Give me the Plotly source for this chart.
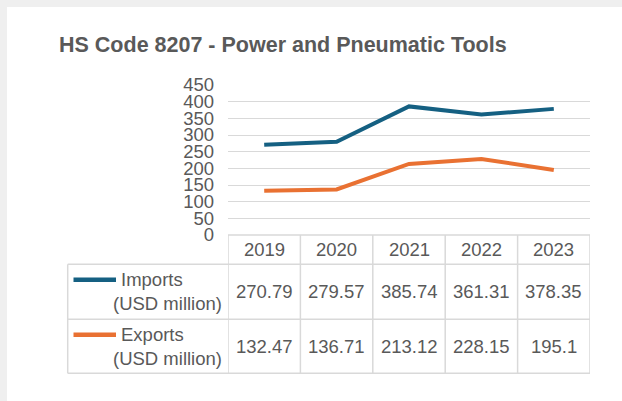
import plotly.graph_objects as go

years = ["2019", "2020", "2021", "2022", "2023"]
imports = [270.79, 279.57, 385.74, 361.31, 378.35]
exports = [132.47, 136.71, 213.12, 228.15, 195.1]
series_names = ["Imports", "Exports"]
unit_label = "(USD million)"
y_ticks = [0, 50, 100, 150, 200, 250, 300, 350, 400, 450]
title = "HS Code 8207 - Power and Pneumatic Tools"

W, H = 622, 401
BLUE = "#156082"
ORANGE = "#E97132"
TXT = "#595959"
GRID = "#d9d9d9"
FONT = "Liberation Sans, Arial, sans-serif"


def X(px):
    return px / W


def Y(py):
    return 1 - py / H


# layout geometry (pixels)
plot_l, plot_r = 228, 590
plot_t, plot_b = 85, 235
row_edges = [235, 264.3, 319.3, 373.3]
legend_l = 67.7

xidx = list(range(len(years)))

fig = go.Figure()
fig.add_trace(go.Scatter(x=xidx, y=imports, mode="lines", name=series_names[0],
                         line=dict(color=BLUE, width=4), hoverinfo="skip"))
fig.add_trace(go.Scatter(x=xidx, y=exports, mode="lines", name=series_names[1],
                         line=dict(color=ORANGE, width=4), hoverinfo="skip"))

shapes = []
# white card on gray page
shapes.append(dict(type="rect", xref="paper", yref="paper", x0=X(7), x1=X(W + 5),
                   y0=Y(H + 5), y1=Y(7), fillcolor="white", line=dict(width=0),
                   layer="below"))
# horizontal table borders
shapes.append(dict(type="line", xref="paper", yref="paper", x0=X(plot_l), x1=X(plot_r),
                   y0=Y(row_edges[0]), y1=Y(row_edges[0]), line=dict(color=GRID, width=1.5)))
for r in row_edges[1:]:
    shapes.append(dict(type="line", xref="paper", yref="paper", x0=X(legend_l), x1=X(plot_r),
                       y0=Y(r), y1=Y(r), line=dict(color=GRID, width=1.5)))
# vertical table borders at category boundaries
for i in range(len(years) + 1):
    shapes.append(dict(type="line", xref="x", yref="paper", x0=i - 0.5, x1=i - 0.5,
                       y0=Y(row_edges[0]), y1=Y(row_edges[-1]),
                       line=dict(color=GRID, width=1.5)))
shapes.append(dict(type="line", xref="paper", yref="paper", x0=X(legend_l), x1=X(legend_l),
                   y0=Y(row_edges[1]), y1=Y(row_edges[-1]), line=dict(color=GRID, width=1.5)))

annotations = []
# header years
hdr_y = (row_edges[0] + row_edges[1]) / 2
for i, yr in enumerate(years):
    annotations.append(dict(x=i, xref="x", y=Y(hdr_y), yref="paper", text=yr,
                            showarrow=False, xanchor="center", yanchor="middle",
                            font=dict(size=18.5, color=TXT, family=FONT)))
# values
for k, (vals, color) in enumerate([(imports, BLUE), (exports, ORANGE)]):
    rt, rb = row_edges[k + 1], row_edges[k + 2]
    cy = (rt + rb) / 2
    for i, v in enumerate(vals):
        annotations.append(dict(x=i, xref="x", y=Y(cy), yref="paper", text=f"{v:g}",
                                showarrow=False, xanchor="center", yanchor="middle",
                                font=dict(size=18.5, color=TXT, family=FONT)))
    # legend key
    ky = rt + 15.5
    shapes.append(dict(type="line", xref="paper", yref="paper", x0=X(73.5), x1=X(116),
                       y0=Y(ky), y1=Y(ky), line=dict(color=color, width=4.5)))
    annotations.append(dict(x=X(119), xref="paper", y=Y(ky), yref="paper",
                            text=series_names[k], showarrow=False, xanchor="left",
                            yanchor="middle", font=dict(size=18.5, color=TXT, family=FONT)))
    annotations.append(dict(x=X(223.5), xref="paper", y=Y(ky + 23.2), yref="paper",
                            text=unit_label, showarrow=False, xanchor="right",
                            yanchor="middle", font=dict(size=18.5, color=TXT, family=FONT)))

# title
annotations.append(dict(x=X(283), xref="paper", y=Y(45), yref="paper", text=f"<b>{title}</b>",
                        showarrow=False, xanchor="center", yanchor="middle",
                        font=dict(size=21.5, color=TXT, family=FONT)))

fig.update_layout(
    width=W, height=H,
    margin=dict(l=0, r=0, t=0, b=0, pad=0),
    paper_bgcolor="#efefef",
    plot_bgcolor="white",
    showlegend=False,
    shapes=shapes,
    annotations=annotations,
    xaxis=dict(domain=[X(plot_l), X(plot_r)], range=[-0.5, len(years) - 0.5],
               showgrid=False, showticklabels=False, zeroline=False, showline=False,
               ticks="", automargin=False),
    yaxis=dict(domain=[Y(plot_b), Y(plot_t)], range=[0, 450], tickvals=y_ticks,
               showgrid=True, gridcolor=GRID, gridwidth=1.3, zeroline=False,
               showline=False, ticks="", ticklabelstandoff=13, automargin=False,
               tickfont=dict(size=18.5, color=TXT, family=FONT)),
)

fig.write_html("out.html", post_script="document.body.style.margin='0';",
               config={"displayModeBar": False})
